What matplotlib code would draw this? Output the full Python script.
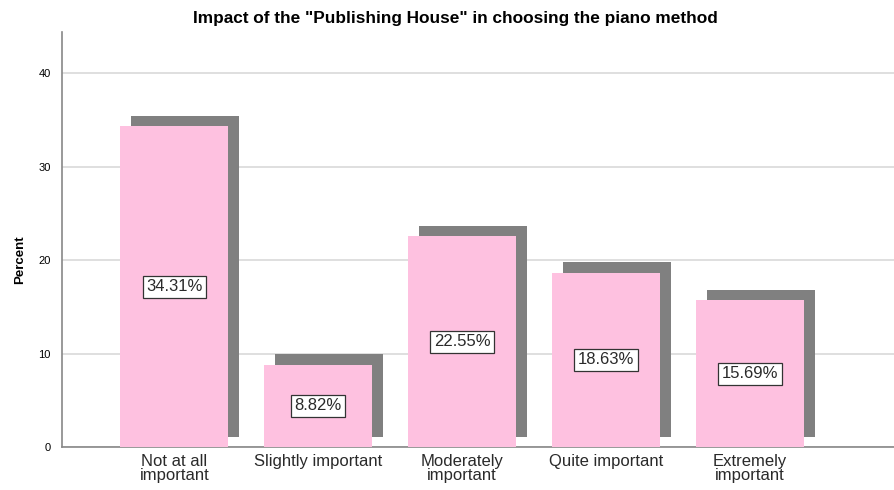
import matplotlib.pyplot as plt
import matplotlib.transforms as mtransforms

categories = ["Not at all\nimportant", "Slightly important", "Moderately\nimportant",
              "Quite important", "Extremely\nimportant"]
percents = [34.31, 8.82, 22.55, 18.63, 15.69]

plt.rcParams["font.family"] = ["Liberation Sans", "DejaVu Sans"]

fig = plt.figure(figsize=(8.94, 4.90), dpi=100)
ax = fig.add_axes([62 / 894, 1 - 447 / 490, 1 - 62 / 894, (447 - 32) / 490])

x = list(range(len(categories)))

# drop shadow: same bars shifted up and to the right
shadow = ax.transData + mtransforms.ScaledTranslation(0.11, 0.105, fig.dpi_scale_trans)
ax.bar(x, percents, width=0.75, color="#808080", transform=shadow, zorder=2)
ax.bar(x, percents, width=0.75, color="#fec1e0", zorder=3)

for xi, v in zip(x, percents):
    ax.text(xi, v / 2, f"{v:.2f}%", ha="center", va="center", fontsize=12,
            color="#2a2a2a", zorder=4,
            bbox=dict(facecolor="white", edgecolor="#333333", linewidth=0.9, pad=2.5))

ax.set_xlim(-0.78, 5.0)
ax.set_ylim(0, 44.4)
ax.set_yticks([0, 10, 20, 30, 40])
ax.yaxis.grid(True, color="#d9d9d9", linewidth=1.2, zorder=0)
ax.set_axisbelow(True)

ax.set_xticks(x)
ax.set_xticklabels(categories, fontsize=12, color="#2a2a2a", linespacing=0.9)
ax.tick_params(axis="x", length=0, pad=5)
ax.tick_params(axis="y", length=0, labelsize=8, pad=8)

for side in ["top", "right"]:
    ax.spines[side].set_visible(False)
ax.spines["left"].set_color("#888888")
ax.spines["bottom"].set_color("#888888")
ax.spines["left"].set_linewidth(1.2)
ax.spines["bottom"].set_linewidth(1.2)

fig.text(20 / 894, 1 - 260 / 490, "Percent", rotation=90, ha="center", va="center",
         fontsize=9.5, fontweight="bold")
fig.text(455 / 894, 1 - 18 / 490, 'Impact of the "Publishing House" in choosing the piano method',
         ha="center", va="center", fontsize=12.4, fontweight="bold")

fig.savefig("out.png", dpi=100)
